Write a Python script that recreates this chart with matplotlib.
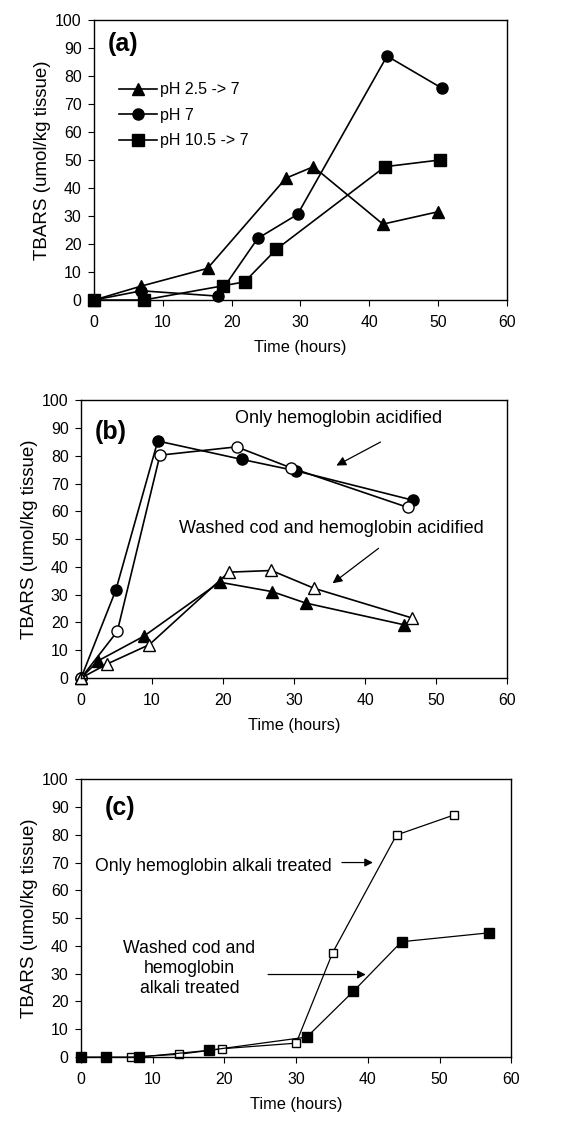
import matplotlib
matplotlib.use('Agg')
import matplotlib.pyplot as plt

plt.rcParams['font.family'] = ['Liberation Sans', 'DejaVu Sans']

# Panel (a): pH treatment series
a_tri_x = [0, 6.9, 16.5, 27.9, 31.9, 42.0, 50.0]
a_tri_y = [0, 5.0, 11.3, 43.5, 47.6, 27.1, 31.5]
a_cir_x = [0, 6.9, 18.0, 23.8, 29.6, 42.6, 50.6]
a_cir_y = [0, 3.3, 1.4, 22.0, 30.6, 87.1, 75.6]
a_sq_x = [0, 7.2, 18.8, 21.9, 26.5, 42.3, 50.3]
a_sq_y = [0, 0, 5.1, 6.5, 18.1, 47.6, 50.0]
a_labels = ['pH 2.5 -> 7', 'pH 7', 'pH 10.5 -> 7']

# Panel (b): acidified
b_fcir_x = [0, 4.9, 10.8, 22.6, 30.2, 46.7]
b_fcir_y = [0, 31.7, 85.3, 78.7, 74.6, 64.0]
b_ocir_x = [0, 5.1, 11.1, 21.9, 29.5, 46.0]
b_ocir_y = [0, 16.8, 80.2, 83.2, 75.7, 61.4]
b_ftri_x = [0, 2.4, 8.8, 19.5, 26.9, 31.6, 45.4]
b_ftri_y = [0, 6.2, 15.0, 34.5, 31.1, 27.0, 19.2]
b_otri_x = [0, 3.7, 9.6, 20.8, 26.8, 32.8, 46.6]
b_otri_y = [0, 5.1, 12.0, 38.1, 38.7, 32.3, 21.6]

# Panel (c): alkali treated
c_osq_x = [7.0, 13.7, 19.7, 30.0, 35.1, 44.0, 52.0]
c_osq_y = [0, 1.0, 3.0, 5.0, 37.6, 79.9, 87.1]
c_fsq_x = [0, 3.5, 8.1, 17.8, 31.5, 38.0, 44.7, 56.9]
c_fsq_y = [0, 0, 0, 2.4, 7.2, 23.7, 41.5, 44.7]

fig = plt.figure(figsize=(5.63, 11.25), dpi=100)
ax_a = fig.add_axes([0.167, 0.7333, 0.733, 0.249])
ax_b = fig.add_axes([0.144, 0.3973, 0.757, 0.247])
ax_c = fig.add_axes([0.144, 0.0604, 0.764, 0.247])

for ax in (ax_a, ax_b, ax_c):
    ax.set_xlim(0, 60)
    ax.set_ylim(0, 100)
    ax.set_xticks(range(0, 61, 10))
    ax.set_yticks(range(0, 101, 10))
    ax.tick_params(axis='both', labelsize=11.4, direction='out', length=4, width=0.8)
    ax.tick_params(axis='x', pad=7)
    ax.tick_params(axis='y', pad=5)
    for s in ax.spines.values():
        s.set_linewidth(1.0)
    ax.set_xlabel('Time (hours)', fontsize=11.8, labelpad=7)
    ax.set_ylabel('TBARS (umol/kg tissue)', fontsize=13.5, labelpad=3)

# Panel (a)
kw = dict(color='black', lw=1.2, ms=8, clip_on=False)
ax_a.plot(a_tri_x, a_tri_y, marker='^', label=a_labels[0], **kw)
ax_a.plot(a_cir_x, a_cir_y, marker='o', label=a_labels[1], **kw)
ax_a.plot(a_sq_x, a_sq_y, marker='s', label=a_labels[2], **kw)
ax_a.legend(loc='upper left', bbox_to_anchor=(0.025, 0.828), frameon=False,
            fontsize=11.5, handlelength=2.4, handletextpad=0.2, labelspacing=0.65)
ax_a.text(4.2, 91.5, '(a)', fontsize=18, fontweight='bold', ha='center', va='center')

# Panel (b)
ax_b.plot(b_fcir_x, b_fcir_y, marker='o', **kw)
ax_b.plot(b_ocir_x, b_ocir_y, marker='o', mfc='white', **kw)
ax_b.plot(b_ftri_x, b_ftri_y, marker='^', **kw)
ax_b.plot(b_otri_x, b_otri_y, marker='^', mfc='white', **kw)
ax_b.text(4.2, 88.6, '(b)', fontsize=18, fontweight='bold', ha='center', va='center')
ax_b.text(36.2, 93.4, 'Only hemoglobin acidified', fontsize=13, ha='center', va='center')
ax_b.text(35.2, 53.9, 'Washed cod and hemoglobin acidified', fontsize=13, ha='center', va='center')
arr = dict(arrowstyle='-|>', color='black', lw=0.9, mutation_scale=14)
ax_b.annotate('', xy=(35.6, 76.0), xytext=(42.5, 85.4), arrowprops=arr)
ax_b.annotate('', xy=(35.1, 33.5), xytext=(42.2, 47.3), arrowprops=arr)

# Panel (c)
kc = dict(color='black', lw=0.9, clip_on=False)
arr_c = dict(arrowstyle='-|>', color='black', lw=0.9, mutation_scale=12)
ax_c.plot(c_osq_x, c_osq_y, marker='s', ms=5.5, mfc='white', **kc)
ax_c.plot(c_fsq_x, c_fsq_y, marker='s', ms=7, **kc)
ax_c.text(5.5, 89.5, '(c)', fontsize=18, fontweight='bold', ha='center', va='center')
ax_c.text(18.5, 68.5, 'Only hemoglobin alkali treated', fontsize=12.7, ha='center', va='center')
ax_c.text(15.1, 31.9, 'Washed cod and\nhemoglobin\nalkali treated', fontsize=12.7,
          ha='center', va='center', linespacing=1.25)
ax_c.annotate('', xy=(41.1, 70.0), xytext=(36.0, 70.0), arrowprops=arr_c)
ax_c.annotate('', xy=(40.1, 29.7), xytext=(25.7, 29.7), arrowprops=arr_c)

fig.savefig('out.png', dpi=100)
